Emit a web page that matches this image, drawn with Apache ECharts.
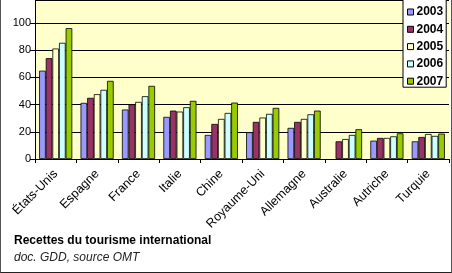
<!DOCTYPE html>
<html><head><meta charset="utf-8">
<script src="https://cdn.jsdelivr.net/npm/echarts@6/dist/echarts.min.js"></script>
<style>
html,body{margin:0;padding:0;background:#fff;}
#wrap{position:absolute;left:0;top:0;width:450px;height:272px;border-left:1px solid #555;border-right:1px solid #555;border-bottom:1px solid #222;}
#c{position:absolute;left:0;top:0;width:452px;height:273px;}
</style></head>
<body>
<div id="wrap"></div>
<div id="c"></div>
<script>
const categories = ['États-Unis','Espagne','France','Italie','Chine','Royaume-Uni','Allemagne','Australie','Autriche','Turquie'];
const years = ['2003','2004','2005','2006','2007'];
const v2003 = [65, 41.3, 36.4, 31, 17.7, 19.7, 22.9, null, 13.5, 13];
const v2004 = [74.2, 45, 40.3, 35.6, 25.8, 27.3, 27.3, 13, 15.5, 16.2];
const v2005 = [81.3, 47.7, 42, 34.9, 29.5, 30.5, 29.5, 14.7, 15.5, 18.4];
const v2006 = [85.5, 50.9, 46.2, 38.1, 33.9, 33.2, 32.9, 17.7, 16.7, 17];
const v2007 = [96.3, 57.5, 53.8, 42.8, 41.5, 37.6, 35.6, 21.9, 18.9, 18.7];
const yTicks = [0,20,40,60,80,100];
const titleText = 'Recettes du tourisme international';
const subText = 'doc. GDD, source OMT';

const colors = ['#9999FF','#993366','#FFFFCC','#CCFFFF','#99CC00'];
const seriesData = [v2003, v2004, v2005, v2006, v2007];
const FONT = '"Liberation Sans", Arial, sans-serif';

const chart = echarts.init(document.getElementById('c'), null, {renderer:'canvas'});
chart.setOption({
  animation:false,
  color: colors,
  grid:{left:35, right:3, top:0, bottom:114, show:true, backgroundColor:'#FFFFCC', borderWidth:0},
  legend:{
    orient:'vertical', left:403, top:-1,
    data: years,
    icon:'rect', itemWidth:6, itemHeight:6, itemGap:5.3,
    padding:[7,3,0,4],
    backgroundColor:'#fff', borderColor:'#000', borderWidth:1,
    textStyle:{fontFamily:FONT, fontSize:12, fontWeight:'bold', color:'#000', padding:[0,0,0,-2]},
    itemStyle:{borderColor:'#000', borderWidth:1}
  },
  xAxis:{
    type:'category', data:categories,
    axisLine:{show:true, lineStyle:{color:'#000', width:1}},
    axisTick:{show:true, length:4, lineStyle:{color:'#000'}},
    axisLabel:{rotate:45, fontFamily:FONT, fontSize:12.5, color:'#000', margin:13, interval:0}
  },
  yAxis:{
    type:'value', min:0, max:117, interval:20,
    axisLine:{show:true, lineStyle:{color:'#000', width:1}},
    axisTick:{show:true, length:5, lineStyle:{color:'#000'}},
    axisLabel:{fontFamily:FONT, fontSize:11, color:'#000', margin:4, showMaxLabel:false,
      formatter: v => yTicks.includes(v) ? String(v) : ''},
    splitLine:{show:true, lineStyle:{color:'#000', width:1}}
  },
  series: years.map((y,i)=>({
    name:y, type:'bar', data:seriesData[i],
    barGap:'0%', barCategoryGap:'20%',
    itemStyle:{color:colors[i], borderColor:'#000', borderWidth:0.8}
  })),
  graphic:[
    {type:'text', left:14, top:235, style:{text:titleText, font:'bold 12px '+FONT, fill:'#000'}},
    {type:'text', left:14, top:252, style:{text:subText, font:'italic 12px '+FONT, fill:'#222'}}
  ]
});
</script>
</body></html>
